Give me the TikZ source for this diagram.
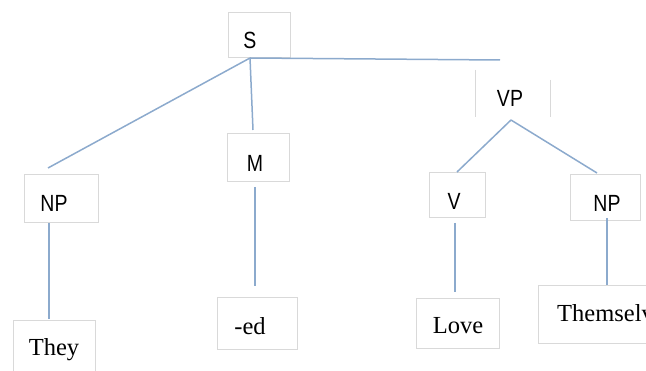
\documentclass[tikz,border=0pt]{standalone}
\usepackage{fontspec}
\setmainfont{Liberation Serif}
\newfontfamily\lblfont{Liberation Sans}
\begin{document}
\begin{tikzpicture}[x=1pt,y=-1pt,
  boxstyle/.style={draw=black!15,line width=0.9pt,inner sep=0pt,anchor=north west},
  cat/.style={font=\lblfont\fontsize{19.5}{20}\selectfont,inner sep=0pt},
  word/.style={font=\fontsize{24.5}{26}\selectfont,inner sep=0pt},
  edge/.style={draw={rgb,255:red,140;green,170;blue,205},line width=1.5pt}]
\useasboundingbox (0,0) rectangle (646,371);
\clip (0,0) rectangle (646,371);
% boxes
\node[boxstyle,minimum width=62pt,minimum height=45pt] (Sbox) at (228,12) {};
\draw[draw=black!15,line width=0.9pt] (475,70) -- (475,117);
\draw[draw=black!15,line width=0.9pt] (550,80) -- (550,117);
\node[boxstyle,minimum width=74pt,minimum height=48pt] (NPabox) at (24,174) {};
\node[boxstyle,minimum width=62pt,minimum height=48pt] (Mbox) at (227,133) {};
\node[boxstyle,minimum width=56pt,minimum height=45pt] (Vbox) at (429,172) {};
\node[boxstyle,minimum width=70pt,minimum height=46pt] (NPbbox) at (570,174) {};
\node[boxstyle,minimum width=82pt,minimum height=70pt] (Theybox) at (13,320) {};
\node[boxstyle,minimum width=80pt,minimum height=52pt] (edbox) at (217,297) {};
\node[boxstyle,minimum width=83pt,minimum height=50pt] (Lovebox) at (416,298) {};
\node[boxstyle,minimum width=140pt,minimum height=58pt] (Thembox) at (538,285) {};
% labels
\node[cat] (S) at (250,40) {\scalebox{1}[1.2]{S}};
\node[cat] (VP) at (510,98) {\scalebox{1}[1.2]{VP}};
\node[cat] (NPa) at (54,203) {\scalebox{1}[1.2]{NP}};
\node[cat] (M) at (255,163) {\scalebox{1}[1.2]{M}};
\node[cat] (V) at (454,201) {\scalebox{1}[1.2]{V}};
\node[cat] (NPb) at (607,203) {\scalebox{1}[1.2]{NP}};
\node[word] (They) at (54,350) {They};
\node[word] (ed) at (250,326) {-ed};
\node[word] (Love) at (458,326) {Love};
\node[word,anchor=west] (Them) at (557,313) {Themselves};
% junction coordinates
\coordinate (Sj) at (250,58);
\coordinate (Send) at (500,60);
\coordinate (NPatop) at (48,168);
\coordinate (Mtop) at (253,130);
\coordinate (VPj) at (511,120);
\coordinate (Vtop) at (457,172);
\coordinate (NPbtop) at (597,173);
\coordinate (NPabot) at (49,223);
\coordinate (Theytop) at (49,319);
\coordinate (Mbot) at (255,187);
\coordinate (edtop) at (255,286);
\coordinate (Vbot) at (455,223);
\coordinate (Lovetop) at (455,292);
\coordinate (NPbbot) at (607,218);
\coordinate (Themtop) at (607,285);
% connectors
\draw[edge] (Sj) -- (Send);
\draw[edge] (Sj) -- (NPatop);
\draw[edge] (Sj) -- (Mtop);
\draw[edge] (VPj) -- (Vtop);
\draw[edge] (VPj) -- (NPbtop);
\draw[edge] (NPabot) -- (Theytop);
\draw[edge] (Mbot) -- (edtop);
\draw[edge] (Vbot) -- (Lovetop);
\draw[edge] (NPbbot) -- (Themtop);
\end{tikzpicture}
\end{document}
